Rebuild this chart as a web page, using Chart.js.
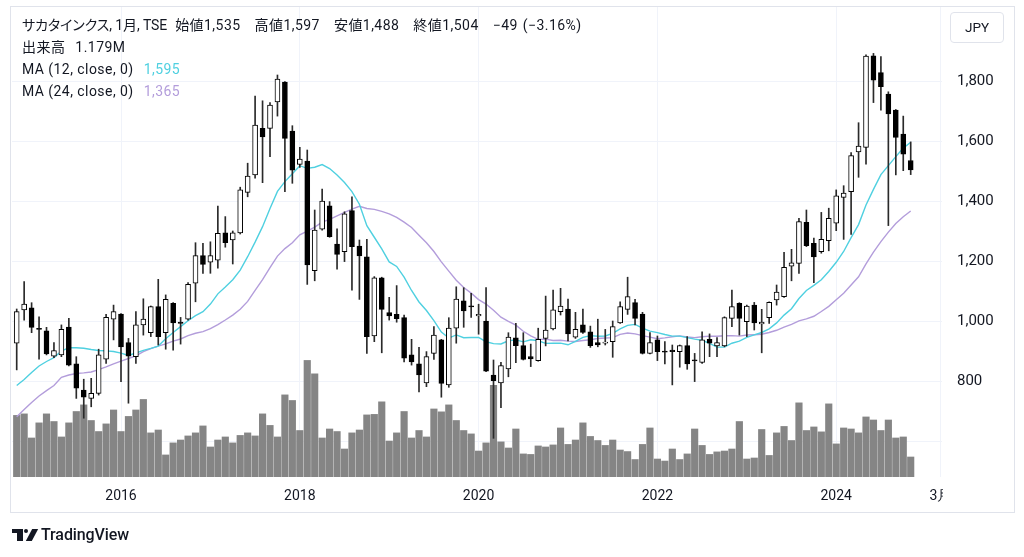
<!DOCTYPE html>
<html><head><meta charset="utf-8">
<script src="https://cdn.jsdelivr.net/npm/chart.js@4.4.1/dist/chart.umd.min.js"></script>
<style>
html,body{margin:0;padding:0;background:#fff;}
#wrap{position:relative;width:1024px;height:557px;overflow:hidden;font-family:Roboto,"Noto Sans CJK JP",sans-serif;color:#131722;}
#c{position:absolute;left:0;top:0;}
.lg{position:absolute;left:22px;font-size:14px;white-space:nowrap;line-height:18px;letter-spacing:0.45px;font-feature-settings:"palt";}
.lg span.nm{letter-spacing:-0.1px;}
.lg span.g{margin-left:10px;}
.lg span.n{margin-left:8px;}
.lg span.h{margin-left:14px;}
.lg span.w{margin-left:5px;}
#jpy{position:absolute;left:950px;top:12px;width:54px;height:31px;border:1px solid #e0e3eb;border-radius:4px;box-sizing:border-box;font-size:13.5px;line-height:29px;text-align:center;}
#tv{position:absolute;left:12px;top:526px;height:18px;}
#tv .t1{position:absolute;left:0;top:3px;width:11px;height:4px;background:#131722;}
#tv .t2{position:absolute;left:5px;top:3px;width:6px;height:12px;background:#131722;}
#tv .dot{position:absolute;left:12px;top:3px;width:4px;height:4px;border-radius:50%;background:#131722;}
#tv .v{position:absolute;left:17px;top:3px;width:6px;height:12px;background:#131722;transform:skewX(-28deg);}
#tv .txt{position:absolute;left:29px;top:-1.5px;font-size:16px;font-weight:500;letter-spacing:-0.1px;white-space:nowrap;}
</style></head>
<body><div id="wrap">
<canvas id="c" width="1024" height="557"></canvas>
<div class="lg" style="top:16px"><span class="nm">サカタインクス, 1月, TSE</span><span class="n">始値1,535</span><span class="h">高値1,597</span><span class="h">安値1,488</span><span class="h">終値1,504</span><span class="h">−49</span><span class="w">(−3.16%)</span></div>
<div class="lg" style="top:38px">出来高<span class="g">1.179M</span></div>
<div class="lg" style="top:60px">MA (12, close, 0)<span class="g" style="color:#4fd0e0">1,595</span></div>
<div class="lg" style="top:82px">MA (24, close, 0)<span class="g" style="color:#b39ddb">1,365</span></div>
<div id="jpy">JPY</div>
<div id="tv"><div class="t1"></div><div class="t2"></div><div class="dot"></div><div class="v"></div><div class="txt">TradingView</div></div>
</div>
<script>
// ---- data (monthly, starting Nov 2014) ----
const startYM = [2014, 11];
const opens = [926,1037,1044,975,967,883,887,980,857,770,742,759,873,1006,1023,928,881,987,961,1048,961,1059,996,1006,1126,1218,1196,1203,1294,1270,1294,1429,1487,1642,1642,1730,1796,1633,1522,1533,1168,1306,1384,1256,1231,1368,1250,1214,950,1144,1028,1022,1011,887,857,794,892,937,787,976,1067,1048,1017,1000,820,794,840,944,918,881,868,942,974,1031,1040,946,987,964,928,926,931,994,1039,1061,1023,892,937,898,903,898,918,869,862,939,917,917,1009,1059,998,1053,990,1011,1070,1081,1183,1192,1329,1259,1231,1268,1326,1412,1431,1564,1579,1884,1828,1756,1703,1623,1535];
const highs = [1040,1131,1061,1014,979,928,987,1009,881,806,809,906,1022,1053,1025,942,1031,1074,1050,1139,1087,1061,1012,1128,1261,1259,1264,1383,1348,1300,1446,1526,1750,1734,1728,1820,1798,1651,1579,1570,1370,1440,1398,1307,1364,1414,1270,1272,1148,1146,1079,1118,1020,939,912,898,981,939,1011,1114,1111,1092,1056,1111,870,862,961,992,961,923,976,1083,1103,1109,1073,1029,1040,983,1006,972,1000,1064,1146,1072,1029,961,950,931,920,920,948,892,964,957,945,1014,1103,1061,1053,1062,1039,1064,1120,1229,1239,1342,1370,1276,1362,1376,1437,1451,1561,1661,1887,1892,1881,1764,1705,1683,1597];
const lows = [837,1003,961,873,887,878,881,850,742,676,714,753,859,937,798,726,859,953,948,920,906,903,923,1003,1064,1159,1159,1176,1246,1190,1290,1414,1476,1461,1548,1683,1431,1459,1512,1122,1134,1303,1279,1173,1198,1103,1072,892,931,894,1003,996,864,853,764,781,872,746,779,926,979,1012,956,831,609,711,814,861,870,848,866,917,970,1020,934,942,959,912,914,920,879,992,1022,987,890,890,868,857,787,846,839,798,859,881,881,914,981,953,948,970,894,992,1053,1079,1134,1159,1248,1128,1226,1234,1301,1272,1289,1479,1523,1728,1703,1318,1487,1501,1488];
const closes = [1031,1056,979,972,890,901,972,853,776,746,759,887,1012,1031,914,883,987,1006,1048,948,1072,994,992,1122,1218,1189,1218,1292,1261,1294,1437,1483,1653,1614,1720,1806,1609,1503,1540,1187,1303,1400,1281,1222,1357,1248,1217,948,1144,1039,1017,1008,876,864,820,881,953,792,976,1073,1034,1047,1022,833,801,851,946,918,872,874,939,970,1037,1050,957,972,962,918,920,928,981,1048,1081,1009,892,928,898,896,898,918,857,867,937,926,928,1011,1048,1009,1050,994,996,1062,1096,1179,1194,1331,1251,1214,1272,1342,1417,1426,1551,1583,1883,1803,1781,1690,1612,1556,1504];
// volume, millions of shares
const volumes = [3.63,3.72,2.30,3.19,3.72,3.27,2.36,3.19,3.86,4.25,3.33,2.68,3.13,3.95,2.68,3.57,3.95,4.57,2.60,2.77,1.30,2.01,2.18,2.42,2.60,3.01,1.77,2.18,2.36,2.01,2.45,2.60,2.42,3.72,3.04,2.36,4.84,4.51,2.74,6.87,6.08,2.30,2.83,2.68,1.65,2.60,2.77,3.66,3.69,4.43,2.12,2.60,3.86,2.30,2.74,2.36,4.01,3.84,4.25,3.33,2.74,2.54,1.53,2.01,5.40,2.07,1.71,2.83,1.36,1.33,1.83,1.77,1.89,2.89,1.92,2.18,3.19,2.39,2.15,1.86,2.18,1.59,1.50,1.03,1.92,2.89,1.06,0.94,1.65,1.03,1.36,2.83,1.86,1.33,1.48,1.53,1.65,3.27,1.06,1.12,2.80,1.27,2.60,2.98,2.15,4.37,2.74,2.95,2.66,4.31,1.95,2.89,2.83,2.60,3.54,3.36,2.74,3.36,2.30,2.36,1.179];
const ma12Lead = [785,805,828,850,865,878,900,911,911,909,905];
const ma24Lead = [681,705,728,750,768,785,812,820,825,827,830,838,847,857,866,875,884,898,908,916,924,933,940];
const xTickMonths = ['2016-01','2018-01','2020-01','2022-01','2024-01','2025-03'];
const xTickLabels = ['2016','2018','2020','2022','2024','3月'];
const priceTicks = [600,800,1000,1200,1400,1600,1800];
const priceLabels = ['','800','1,000','1,200','1,400','1,600','1,800'];

function monthIndex(s){ const p = s.split('-').map(Number); return (p[0]-startYM[0])*12 + (p[1]-startYM[1]); }
function sma(n, lead){
  return closes.map((c,i)=>{
    if (i < n-1) return lead[i];
    let s = 0; for (let k=i-n+1;k<=i;k++) s += closes[k];
    return s/n;
  });
}
const ma12 = sma(12, ma12Lead), ma24 = sma(24, ma24Lead);
const isUp = closes.map((c,i)=> c >= opens[i]);

const framePlugin = {
  id:'frame',
  afterDraw(chart){
    const ctx = chart.ctx, a = chart.chartArea;
    ctx.save();
    ctx.fillStyle = '#fff';
    ctx.fillRect(a.right+1, a.bottom+1, 1014 - a.right - 1, 34);
    ctx.strokeStyle = '#e0e3eb'; ctx.lineWidth = 1;
    ctx.strokeRect(10.5, 6.5, 1004, 506);
    ctx.restore();
  }
};

new Chart(document.getElementById('c'), {
  type:'bar',
  data:{ datasets:[
    { type:'bar', label:'出来高', yAxisID:'yv', data: volumes.map((v,i)=>({x:i,y:v})),
      backgroundColor:'#858585', barThickness:6.5, grouped:false, order:10 },
    { type:'line', label:'MA (24, close, 0)', yAxisID:'y', data: ma24.map((v,i)=>({x:i,y:v})),
      borderColor:'#b39ddb', borderWidth:1.4, pointRadius:0, tension:0, order:6 },
    { type:'line', label:'MA (12, close, 0)', yAxisID:'y', data: ma12.map((v,i)=>({x:i,y:v})),
      borderColor:'#4fd0e0', borderWidth:1.4, pointRadius:0, tension:0, order:5 },
    { type:'bar', label:'wick', yAxisID:'y', data: highs.map((h,i)=>({x:i,y:[lows[i],h]})),
      backgroundColor:'#2a2a2a', barThickness:1, grouped:false, order:3 },
    { type:'bar', label:'body', yAxisID:'y', data: opens.map((o,i)=>({x:i,y:[o,closes[i]]})),
      backgroundColor: isUp.map(u=>u?'#ffffff':'#000000'), borderColor:'#000', borderWidth:1,
      borderSkipped:false, barThickness:5, minBarLength:1, grouped:false, order:1 }
  ]},
  options:{
    responsive:false, animation:false, devicePixelRatio:1,
    layout:{padding:{left:12, top:7, right:9, bottom:45}},
    plugins:{legend:{display:false}, tooltip:{enabled:false}},
    scales:{
      x:{ type:'linear', min:-0.631, max:124.2, offset:false,
          grid:{color:'#f0f3fa', drawTicks:false, offset:false}, border:{display:false},
          afterBuildTicks:s=>{ s.ticks = xTickMonths.map(m=>({value:monthIndex(m)})); },
          ticks:{autoSkip:false, maxRotation:0, padding:11, color:'#131722', font:{family:'Roboto', size:14},
                 callback:(v,i)=>xTickLabels[i]},
          afterFit:s=>{ s.height = 35; s.paddingLeft = 0; s.paddingRight = 0; } },
      y:{ position:'right', min:480, max:2046.67,
          grid:{color:'#f0f3fa', drawTicks:false}, border:{display:false},
          afterBuildTicks:s=>{ s.ticks = priceTicks.map(v=>({value:v})); },
          ticks:{padding:15, color:'#131722', font:{family:'Roboto', size:15},
                 callback:(v,i)=>priceLabels[i]},
          afterFit:s=>{ s.width = 73; s.paddingTop = 0; s.paddingBottom = 0; } },
      yv:{ display:false, min:0, max:27.7 }
    }
  },
  plugins:[framePlugin]
});
</script>
</body></html>
